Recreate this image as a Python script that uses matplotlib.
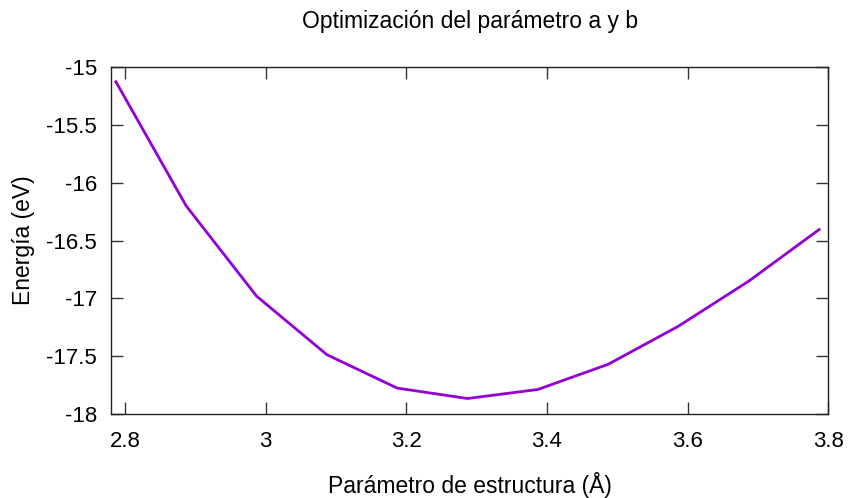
import matplotlib
matplotlib.use("Agg")
import matplotlib.pyplot as plt

# Lattice parameter scan (Å) and total energy (eV)
parametro = [2.787, 2.887, 2.987, 3.087, 3.187, 3.287, 3.387, 3.487, 3.587, 3.687, 3.787]
energia = [-15.125, -16.20, -16.98, -17.487, -17.776, -17.866, -17.788, -17.57, -17.24, -16.85, -16.404]

x_ticks = [2.8, 3.0, 3.2, 3.4, 3.6, 3.8]
x_tick_labels = ["2.8", "3", "3.2", "3.4", "3.6", "3.8"]
y_ticks = [-15, -15.5, -16, -16.5, -17, -17.5, -18]
y_tick_labels = ["-15", "-15.5", "-16", "-16.5", "-17", "-17.5", "-18"]

plt.rcParams["font.family"] = ["Liberation Sans", "DejaVu Sans"]

fig = plt.figure(figsize=(8.51, 4.98), dpi=100)
ax = fig.add_axes([0.1304, 0.1687, 0.9733 - 0.1304, 0.8649 - 0.1687])

ax.plot(parametro, energia, color="#9400D3", linewidth=2.0)

ax.set_xlim(2.78, 3.8)
ax.set_ylim(-18, -15)
ax.set_xticks(x_ticks)
ax.set_xticklabels(x_tick_labels)
ax.set_yticks(y_ticks)
ax.set_yticklabels(y_tick_labels)

ax.tick_params(direction="in", length=8.5, width=1, top=True, right=True,
               labelsize=16, color="#333333")
ax.tick_params(axis="y", pad=10)
ax.tick_params(axis="x", pad=12)
for s in ax.spines.values():
    s.set_linewidth(1)
    s.set_color("#222222")

ax.set_title("Optimización del parámetro a y b", fontsize=16.5, pad=28)
ax.set_xlabel("Parámetro de estructura (Å)", fontsize=16.5, labelpad=15)
ax.set_ylabel("Energía (eV)", fontsize=16.5, labelpad=8)

fig.savefig("out.png", dpi=100)
